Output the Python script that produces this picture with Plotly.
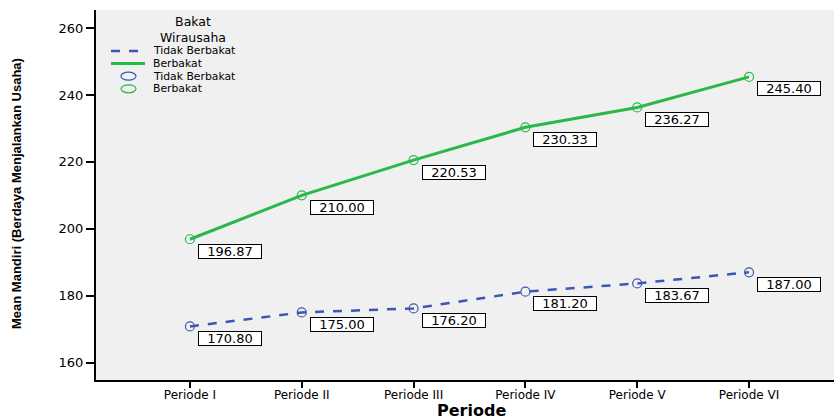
import plotly.graph_objects as go

periods = ["Periode I", "Periode II", "Periode III", "Periode IV", "Periode V", "Periode VI"]
tidak_berbakat = [170.80, 175.00, 176.20, 181.20, 183.67, 187.00]
berbakat = [196.87, 210.00, 220.53, 230.33, 236.27, 245.40]
y_ticks = [160, 180, 200, 220, 240, 260]
series_names = ["Tidak Berbakat", "Berbakat"]
legend_title = "Bakat<br>Wirausaha"

BLUE = "#3d56b3"
GREEN = "#2bb84a"
FONT = "DejaVu Sans, Liberation Sans, Arial, sans-serif"

W, H = 834, 419
ML, MR, MT, MB = 96, 0, 10, 39
PW, PH = W - ML - MR, H - MT - MB


def px(xp):
    return (xp - ML) / PW


def py(yp):
    return (H - MB - yp) / PH


xs = list(range(len(periods)))
fig = go.Figure()
fig.add_trace(go.Scatter(x=xs, y=tidak_berbakat, mode="lines", name=series_names[0],
                         line=dict(color=BLUE, width=2.5, dash="dash")))
fig.add_trace(go.Scatter(x=xs, y=berbakat, mode="lines", name=series_names[1],
                         line=dict(color=GREEN, width=3)))
fig.add_trace(go.Scatter(x=xs, y=tidak_berbakat, mode="markers", name=series_names[0],
                         marker=dict(symbol="circle-open", size=9, color=BLUE, line=dict(width=1.2))))
fig.add_trace(go.Scatter(x=xs, y=berbakat, mode="markers", name=series_names[1],
                         marker=dict(symbol="circle-open", size=9, color=GREEN, line=dict(width=1.2))))

# value labels
for series in (tidak_berbakat, berbakat):
    for i, v in enumerate(series):
        fig.add_annotation(x=i, y=v, xref="x", yref="y", text=f"{v:.2f}", showarrow=False,
                           xshift=40, yshift=-12, bgcolor="white", bordercolor="black",
                           borderwidth=1, borderpad=1, width=60, height=11,
                           font=dict(family=FONT, size=13, color="black"))

# custom legend (layout only)
fig.add_annotation(x=px(193), y=py(29), xref="paper", yref="paper", text=legend_title,
                   showarrow=False, xanchor="center", yanchor="middle",
                   font=dict(family=FONT, size=12.5, color="black"))
leg_rows = [51, 63.6, 76.2, 88.8]
fig.add_shape(type="line", xref="paper", yref="paper", x0=px(111), x1=px(145),
              y0=py(leg_rows[0]), y1=py(leg_rows[0]), line=dict(color=BLUE, width=2.5, dash="dash"))
fig.add_shape(type="line", xref="paper", yref="paper", x0=px(111), x1=px(145),
              y0=py(leg_rows[1]), y1=py(leg_rows[1]), line=dict(color=GREEN, width=3))
for r, col in ((leg_rows[2], BLUE), (leg_rows[3], GREEN)):
    fig.add_shape(type="circle", xref="paper", yref="paper", x0=px(121), x1=px(136),
                  y0=py(r - 4), y1=py(r + 4), line=dict(color=col, width=1.2))
for r, t in zip(leg_rows, series_names + series_names):
    fig.add_annotation(x=px(151), y=py(r), xref="paper", yref="paper", text=t,
                       showarrow=False, xanchor="left", yanchor="middle",
                       font=dict(family=FONT, size=10.8, color="black"))

# axis titles
fig.add_annotation(x=px(471), y=py(410), xref="paper", yref="paper", text="<b>Periode</b>",
                   showarrow=False, xanchor="center", yanchor="middle",
                   font=dict(family=FONT, size=16, color="black"))
fig.add_annotation(x=px(16), y=py(194), xref="paper", yref="paper",
                   text="<b>Mean Mandiri (Berdaya Menjalankan Usaha)</b>", textangle=-90,
                   showarrow=False, xanchor="center", yanchor="middle",
                   font=dict(family="Liberation Sans, Arial, sans-serif", size=13, color="black"))

fig.update_layout(
    width=W, height=H,
    margin=dict(l=ML, r=MR, t=MT, b=MB, autoexpand=False),
    paper_bgcolor="white", plot_bgcolor="#f0f0f0",
    font=dict(family=FONT, color="black"),
    showlegend=False,
    xaxis=dict(range=[-0.84, 5.76], tickvals=xs, ticktext=periods, showgrid=False,
               zeroline=False, showline=True, linecolor="black", linewidth=2,
               ticks="outside", ticklen=6, tickwidth=2, tickcolor="black", automargin=False,
               ticklabelstandoff=-3,
               tickfont=dict(size=12, family=FONT)),
    yaxis=dict(range=[154.8, 265.4], tickvals=y_ticks, showgrid=False, zeroline=False,
               showline=True, linecolor="black", linewidth=2, automargin=False,
               ticks="outside", ticklen=8, tickwidth=2, tickcolor="black",
               tickfont=dict(size=13, family=FONT)),
)

fig.write_html("out.html", config={"displayModeBar": False},
               post_script="document.body.style.margin='0px';document.body.style.overflow='hidden';")
